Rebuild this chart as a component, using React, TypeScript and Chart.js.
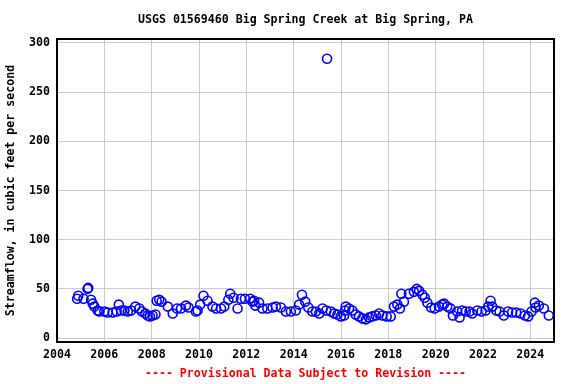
import React, { useEffect, useRef } from 'react';
import { Chart, registerables } from 'chart.js';

Chart.register(...registerables);

const TITLE = 'USGS 01569460 Big Spring Creek at Big Spring, PA';
const Y_TITLE = 'Streamflow, in cubic feet per second';
const CAPTION = '---- Provisional Data Subject to Revision ----';

const years = [
  2004.85, 2004.9, 2005.12, 2005.29, 2005.32, 2005.44, 2005.51, 2005.58, 2005.72, 2005.79,
  2006.0, 2006.14, 2006.35, 2006.52, 2006.61, 2006.71, 2006.85, 2006.99, 2007.13, 2007.31,
  2007.48, 2007.59, 2007.73, 2007.83, 2007.93, 2008.04, 2008.16, 2008.21, 2008.32, 2008.42,
  2008.68, 2008.89, 2009.07, 2009.24, 2009.45, 2009.56, 2009.87, 2009.94, 2010.05, 2010.19,
  2010.36, 2010.57, 2010.72, 2010.93, 2011.07, 2011.24, 2011.32, 2011.46, 2011.63, 2011.77,
  2011.94, 2012.16, 2012.26, 2012.33, 2012.38, 2012.54, 2012.68, 2012.89, 2013.11, 2013.25,
  2013.46, 2013.67, 2013.88, 2014.09, 2014.23, 2014.35, 2014.49, 2014.62, 2014.79, 2014.94,
  2015.08, 2015.22, 2015.38, 2015.41, 2015.57, 2015.71, 2015.85, 2015.99, 2016.13, 2016.17,
  2016.2, 2016.34, 2016.48, 2016.62, 2016.76, 2016.9, 2017.05, 2017.19, 2017.32, 2017.47,
  2017.61, 2017.75, 2017.93, 2018.1, 2018.24, 2018.38, 2018.49, 2018.55, 2018.66, 2018.87,
  2019.08, 2019.2, 2019.3, 2019.44, 2019.54, 2019.65, 2019.81, 2019.96, 2020.14, 2020.28,
  2020.36, 2020.49, 2020.63, 2020.73, 2020.91, 2021.01, 2021.12, 2021.27, 2021.43, 2021.54,
  2021.76, 2021.94, 2022.11, 2022.22, 2022.32, 2022.39, 2022.56, 2022.7, 2022.88, 2023.06,
  2023.23, 2023.4, 2023.59, 2023.77, 2023.91, 2024.05, 2024.19, 2024.22, 2024.36, 2024.57,
  2024.78,
];

const flows = [
  40, 43, 40, 50, 51, 39, 35, 32, 28, 27,
  27, 26, 26, 27, 34, 28, 28, 27, 28, 32,
  30, 27, 25, 23, 22, 23, 24, 38, 39, 37,
  32, 25, 30, 30, 33, 31, 27, 28, 34, 43,
  38, 32, 30, 30, 32, 39, 45, 41, 30, 40,
  40, 40, 37, 38, 33, 36, 30, 30, 31, 32,
  31, 27, 27, 28, 34, 44, 37, 31, 27, 27,
  25, 30, 28, 284, 27, 25, 24, 22, 23, 28,
  32, 30, 28, 24, 22, 20, 19, 21, 22, 23,
  25, 23, 22, 22, 32, 34, 30, 45, 37, 45,
  47, 50, 48, 44, 41, 36, 31, 30, 32, 34,
  35, 32, 30, 23, 27, 21, 28, 27, 27, 25,
  28, 27, 28, 32, 38, 32, 28, 27, 23, 27,
  26, 26, 25, 23, 22, 27, 36, 31, 33, 30,
  23,
];

const xTicks = [2004, 2006, 2008, 2010, 2012, 2014, 2016, 2018, 2020, 2022, 2024];
const yTicks = [0, 50, 100, 150, 200, 250, 300];

const FONT = "'DejaVu Sans Mono', monospace";
const FONT_SIZE = 11.6;

const boxPlugin = {
  id: 'plotBox',
  afterDatasetsDraw(chart: any) {
    const { ctx, chartArea } = chart;
    const { left, top, right, bottom } = chartArea;
    ctx.save();
    ctx.strokeStyle = '#000000';
    ctx.lineWidth = 2;
    ctx.strokeRect(left, top, right - left, bottom - top);
    ctx.restore();
  },
};

const titlePlugin = {
  id: 'centeredTitle',
  afterDraw(chart: any) {
    const { ctx, chartArea } = chart;
    ctx.save();
    ctx.font = `bold ${FONT_SIZE}px ${FONT}`;
    ctx.fillStyle = '#000000';
    ctx.textAlign = 'center';
    ctx.textBaseline = 'middle';
    ctx.fillText(TITLE, (chartArea.left + chartArea.right) / 2, 20);
    ctx.restore();
  },
};

export default function App() {
  const ref = useRef<HTMLCanvasElement | null>(null);

  useEffect(() => {
    if (!ref.current) return;
    const font = { family: FONT, size: FONT_SIZE, weight: 'bold' as const };
    const chart = new Chart(ref.current, {
      type: 'scatter',
      data: {
        datasets: [
          {
            data: years.map((x, i) => ({ x, y: flows[i] })),
            showLine: false,
            pointStyle: 'circle',
            pointRadius: 4.5,
            pointHoverRadius: 4.5,
            pointBorderWidth: 1.6,
            borderColor: '#0000ff',
            backgroundColor: 'rgba(0,0,0,0)',
          },
        ],
      },
      options: {
        animation: false,
        responsive: false,
        devicePixelRatio: 1,
        events: [],
        layout: { padding: { left: 0, right: 22, top: 39, bottom: 0 } },
        plugins: {
          legend: { display: false },
          tooltip: { enabled: false },
          title: { display: false },
        },
        scales: {
          x: {
            type: 'linear',
            min: 2004,
            max: 2025,
            afterBuildTicks: (scale: any) => {
              scale.ticks = xTicks.map((v) => ({ value: v }));
            },
            afterFit: (scale: any) => {
              scale.height = 42;
            },
            grid: { color: '#cccccc', lineWidth: 1, drawTicks: false },
            border: { display: false },
            ticks: {
              color: '#000000',
              font,
              padding: 6,
              maxRotation: 0,
              autoSkip: false,
              callback: (v: any) => String(v),
            },
            title: {
              display: true,
              text: CAPTION,
              color: '#ff0000',
              font,
              padding: { top: 0, bottom: 3 },
            },
          },
          y: {
            type: 'linear',
            min: -4,
            max: 304,
            afterBuildTicks: (scale: any) => {
              scale.ticks = yTicks.map((v) => ({ value: v }));
            },
            afterFit: (scale: any) => {
              scale.width = 57;
            },
            grid: { color: '#cccccc', lineWidth: 1, drawTicks: false },
            border: { display: false },
            ticks: {
              color: '#000000',
              font,
              padding: 7,
              callback: (v: any) => String(v),
            },
            title: {
              display: true,
              text: Y_TITLE,
              color: '#000000',
              font,
              padding: { top: 4, bottom: 0 },
            },
          },
        },
      },
      plugins: [boxPlugin, titlePlugin],
    });
    return () => chart.destroy();
  }, []);

  return (
    <div style={{ position: 'absolute', left: 0, top: 0, width: 576, height: 384, background: '#ffffff' }}>
      <canvas ref={ref} width={576} height={384} style={{ display: 'block', width: 576, height: 384 }} />
    </div>
  );
}
